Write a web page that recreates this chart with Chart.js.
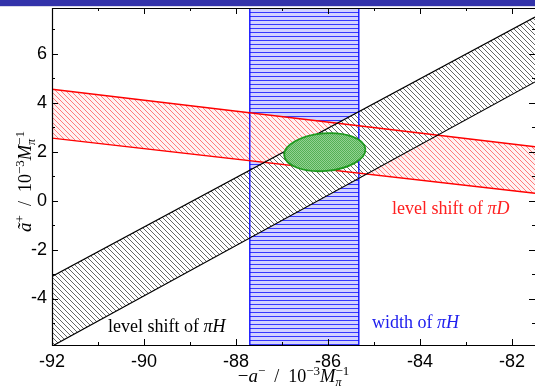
<!DOCTYPE html>
<html>
<head>
<meta charset="utf-8">
<script src="https://cdn.jsdelivr.net/npm/chart.js@4.4.1/dist/chart.umd.min.js"></script>
<style>
  html, body { margin: 0; padding: 0; background: #fff; }
  #wrap { position: relative; width: 535px; height: 388px; overflow: hidden; }
  #bar { position: absolute; left: 0; top: 0; width: 535px; height: 6px; background: #3333aa; border-bottom: 1px solid #d8d8e8; z-index: 2; }
  canvas { position: absolute; left: 0; top: 0; }
</style>
</head>
<body>
<div id="wrap">
  <div id="bar"></div>
  <canvas id="chart" width="535" height="388"></canvas>
</div>
<script>
// axis ranges
const xRange = [-92, -81.5];
const yRange = [-5.9, 7.87];
const xLabelled = [-92, -90, -88, -86, -84, -82];
const yLabelled = [-4, -2, 0, 2, 4, 6];

// level shift of pi H band (values at xRange ends)
const shiftPiHUpper = [-3.1, 7.5];
const shiftPiHLower = [-5.95, 4.85];
// level shift of pi D band
const shiftPiDUpper = [4.55, 2.2];
const shiftPiDLower = [2.55, 0.3];
// width of pi H band (x limits)
const widthPiH = [-87.7, -85.33];
// combined result ellipse
const ellipseCenter = [-86.07, 1.98];
const ellipseRadii = [0.885, 0.77];
const ellipseTilt = -0.08;

const SERIF = '"Liberation Serif", "DejaVu Serif", serif';
const SANS = '"Liberation Sans", Arial, sans-serif';

function hatch(bg, color, step, width) {
  const c = document.createElement("canvas");
  c.width = step; c.height = step;
  const g = c.getContext("2d");
  g.fillStyle = "#fff";
  g.fillRect(0, 0, step, step);
  if (bg) { g.fillStyle = bg; g.fillRect(0, 0, step, step); }
  g.strokeStyle = color;
  g.lineWidth = width;
  [-step, 0, step].forEach((o) => {
    g.beginPath();
    g.moveTo(o - 1, -1);
    g.lineTo(o + step + 1, step + 1);
    g.stroke();
  });
  return g.createPattern(c, "repeat");
}

function stripes() {
  const c = document.createElement("canvas");
  c.width = 4; c.height = 4;
  const g = c.getContext("2d");
  g.fillStyle = "#d2d2ff";
  g.fillRect(0, 0, 4, 4);
  g.fillStyle = "#3636ff";
  g.fillRect(0, 0, 4, 1);
  return g.createPattern(c, "repeat");
}

function checker() {
  const c = document.createElement("canvas");
  c.width = 2; c.height = 2;
  const g = c.getContext("2d");
  g.fillStyle = "#92d292";
  g.fillRect(0, 0, 2, 2);
  g.fillStyle = "#54b054";
  g.fillRect(0, 0, 1, 1);
  g.fillRect(1, 1, 1, 1);
  return g.createPattern(c, "repeat");
}

const pts = (xs, ys) => xs.map((x, i) => ({ x: x, y: ys[i] }));

function drawRich(ctx, parts, x, y, align) {
  let w = 0, prevStart = 0, prevW = 0;
  const pos = [];
  parts.forEach((p) => {
    ctx.font = (p.italic ? "italic " : "") + p.size + "px " + SERIF;
    const pw = ctx.measureText(p.t).width;
    if (p.stack) {
      pos.push(prevStart);
      prevW = Math.max(prevW, pw);
      w = prevStart + prevW;
    } else {
      pos.push(w);
      prevStart = w; prevW = pw;
      w += pw;
    }
  });
  const x0 = align === "center" ? x - w / 2 : x;
  parts.forEach((p, i) => {
    ctx.font = (p.italic ? "italic " : "") + p.size + "px " + SERIF;
    ctx.fillText(p.t, x0 + pos[i], y + (p.dy || 0));
  });
}

const unitParts = [
  { t: "\u2002/\u200210", size: 18 },
  { t: "\u22123", size: 13, dy: -7 },
  { t: "M", size: 18.5, italic: true },
  { t: "\u03c0", size: 12, italic: true, dy: 4 },
  { t: "\u22121", size: 13, dy: -7, stack: true },
];

const decor = {
  id: "decor",
  afterDatasetsDraw(chart) {
    const { ctx, scales: { x, y } } = chart;
    // ellipse
    const cx = x.getPixelForValue(ellipseCenter[0]);
    const cy = y.getPixelForValue(ellipseCenter[1]);
    const rx = Math.abs(x.getPixelForValue(ellipseCenter[0] + ellipseRadii[0]) - cx);
    const ry = Math.abs(y.getPixelForValue(ellipseCenter[1] + ellipseRadii[1]) - cy);
    ctx.save();
    ctx.beginPath();
    ctx.ellipse(cx, cy, rx, ry, ellipseTilt, 0, Math.PI * 2);
    ctx.fillStyle = checker();
    ctx.fill();
    ctx.lineWidth = 1.8;
    ctx.strokeStyle = "#1e991e";
    ctx.stroke();
    ctx.restore();
  },
  afterDraw(chart) {
    const { ctx, chartArea: a, scales: { x, y } } = chart;
    ctx.save();
    // frame
    ctx.strokeStyle = "#000";
    ctx.lineWidth = 1.2;
    ctx.beginPath();
    ctx.moveTo(a.right + 1, a.top + 0.5);
    ctx.lineTo(a.left + 0.5, a.top + 0.5);
    ctx.lineTo(a.left + 0.5, a.bottom + 0.5);
    ctx.lineTo(a.right + 1, a.bottom + 0.5);
    ctx.stroke();
    // inward ticks
    ctx.lineWidth = 1;
    x.ticks.forEach((t) => {
      const px = Math.round(x.getPixelForValue(t.value)) + 0.5;
      const len = xLabelled.includes(t.value) ? 6 : 3;
      ctx.beginPath();
      ctx.moveTo(px, a.bottom); ctx.lineTo(px, a.bottom - len);
      ctx.moveTo(px, a.top); ctx.lineTo(px, a.top + len);
      ctx.stroke();
    });
    y.ticks.forEach((t) => {
      const py = Math.round(y.getPixelForValue(t.value)) + 0.5;
      const len = yLabelled.includes(t.value) ? 6 : 3;
      ctx.beginPath();
      ctx.moveTo(a.left, py); ctx.lineTo(a.left + len, py);
      ctx.moveTo(a.right, py); ctx.lineTo(a.right - len, py);
      ctx.stroke();
    });
    // axis titles
    ctx.fillStyle = "#000";
    ctx.textBaseline = "alphabetic";
    drawRich(ctx, [
      { t: "\u2212", size: 19 },
      { t: "a", size: 19, italic: true },
      { t: "\u2212", size: 13, dy: -7 },
    ].concat(unitParts), (a.left + a.right) / 2, 382, "center");
    ctx.save();
    ctx.translate(31, (a.top + a.bottom) / 2 + 5);
    ctx.rotate(-Math.PI / 2);
    drawRich(ctx, [
      { t: "\u00e3", size: 19, italic: true },
      { t: "+", size: 13, dy: -7 },
    ].concat(unitParts), 0, 0, "center");
    ctx.restore();
    // band labels
    ctx.fillStyle = "#000";
    drawRich(ctx, [
      { t: "level shift of ", size: 18 },
      { t: "\u03c0H", size: 18, italic: true },
    ], 108, 332, "left");
    ctx.fillStyle = "#ff2020";
    drawRich(ctx, [
      { t: "level shift of ", size: 18 },
      { t: "\u03c0D", size: 18, italic: true },
    ], 392, 214, "left");
    ctx.fillStyle = "#2020ee";
    drawRich(ctx, [
      { t: "width of ", size: 18 },
      { t: "\u03c0H", size: 18, italic: true },
    ], 372, 328, "left");
    ctx.restore();
  },
};

const ctx = document.getElementById("chart").getContext("2d");
const lineOpts = { showLine: true, pointRadius: 0, tension: 0 };

new Chart(ctx, {
  type: "scatter",
  data: {
    datasets: [
      Object.assign({
        label: "level shift of pi H (upper)",
        data: pts(xRange, shiftPiHUpper),
        borderColor: "#000", borderWidth: 1.2,
        fill: "+1", backgroundColor: hatch(null, "rgba(0,0,0,0.8)", 5, 0.75),
      }, lineOpts),
      Object.assign({
        label: "level shift of pi H (lower)",
        data: pts(xRange, shiftPiHLower),
        borderColor: "#000", borderWidth: 1.2, fill: false,
      }, lineOpts),
      Object.assign({
        label: "level shift of pi D (upper)",
        data: pts(xRange, shiftPiDUpper),
        borderColor: "#ff0000", borderWidth: 1.3,
        fill: "+1", backgroundColor: hatch("rgba(255,0,0,0.05)", "rgba(255,0,0,0.7)", 5, 0.7),
      }, lineOpts),
      Object.assign({
        label: "level shift of pi D (lower)",
        data: pts(xRange, shiftPiDLower),
        borderColor: "#ff0000", borderWidth: 1.3, fill: false,
      }, lineOpts),
      Object.assign({
        label: "width of pi H",
        data: [
          { x: widthPiH[0], y: yRange[0] },
          { x: widthPiH[0], y: yRange[1] },
          { x: widthPiH[1], y: yRange[1] },
          { x: widthPiH[1], y: yRange[0] },
        ],
        borderColor: "#0000ff", borderWidth: 1.3,
        fill: "start", backgroundColor: stripes(),
      }, lineOpts),
    ],
  },
  options: {
    responsive: false,
    animation: false,
    events: [],
    layout: { padding: { top: 8, right: 0, left: 0, bottom: 0 } },
    plugins: {
      legend: { display: false },
      tooltip: { enabled: false },
      filler: { drawTime: "beforeDatasetsDraw" },
    },
    scales: {
      x: {
        type: "linear",
        min: xRange[0], max: xRange[1],
        grid: { display: false, drawTicks: false },
        border: { display: false },
        ticks: {
          stepSize: 1, includeBounds: false, autoSkip: false, maxRotation: 0,
          padding: 6, color: "#000",
          font: { family: SANS, size: 18 },
          callback: (v) => (xLabelled.includes(v) ? String(v) : ""),
        },
        afterFit: (s) => { s.height = 43; s.paddingLeft = 0; s.paddingRight = 0; },
      },
      y: {
        type: "linear",
        min: yRange[0], max: yRange[1],
        grid: { display: false, drawTicks: false },
        border: { display: false },
        ticks: {
          stepSize: 1, includeBounds: false, autoSkip: false,
          padding: 5, color: "#000",
          font: { family: SANS, size: 18 },
          callback: (v) => (yLabelled.includes(v) ? String(v) : ""),
        },
        afterFit: (s) => { s.width = 52; s.paddingTop = 0; s.paddingBottom = 0; },
      },
    },
  },
  plugins: [decor],
});
</script>
</body>
</html>
